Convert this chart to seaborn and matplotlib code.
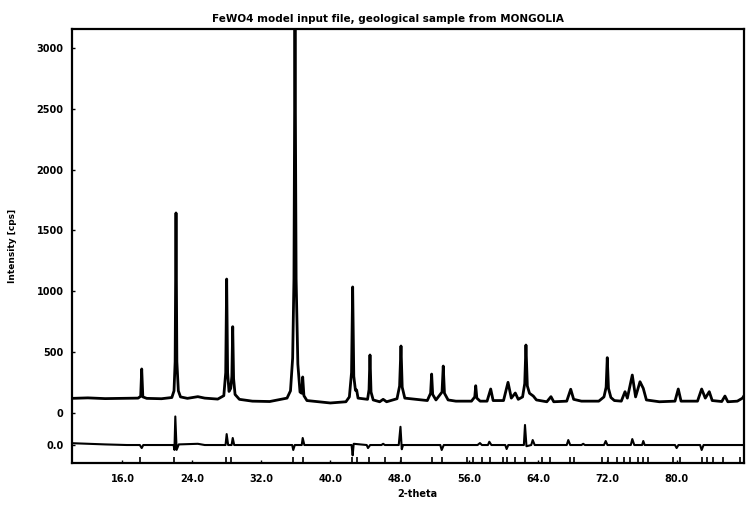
import numpy as np
import pandas as pd
import seaborn as sns
import matplotlib
matplotlib.use("Agg")
import matplotlib.pyplot as plt

# ---------------- data ----------------
# observed pattern (2-theta, intensity in cps)
obs_tth = [10.17, 12.0, 14.0, 16.0, 17.8, 18.1, 18.22, 18.35, 18.8, 20.5,
           21.7, 21.95, 22.08, 22.18, 22.28, 22.45, 22.7, 23.5, 24.7, 25.5,
           27.0, 27.7, 27.92, 28.03, 28.14, 28.3, 28.5, 28.63, 28.73, 28.83,
           29.0, 29.5, 31.0, 33.0, 35.0, 35.4, 35.65, 35.8, 35.92, 36.05,
           36.25, 36.5, 36.7, 36.81, 36.95, 37.3, 40.0, 41.8, 42.2, 42.45,
           42.58, 42.71, 42.9, 43.04, 43.2, 44.3, 44.47, 44.58, 44.7, 44.95,
           45.7, 46.1, 46.5, 47.7, 48.0, 48.16, 48.3, 48.6, 51.2, 51.58,
           51.70, 51.82, 52.2, 52.9, 53.04, 53.18, 53.6, 54.5, 56.3, 56.68,
           56.79, 56.92, 57.3, 58.1, 58.52, 58.8, 60.0, 60.52, 60.9, 61.36,
           61.7, 62.2, 62.45, 62.59, 62.75, 63.0, 63.44, 63.8, 65.0, 65.48,
           65.8, 67.3, 67.76, 68.1, 69.0, 71.0, 71.6, 71.85, 71.98, 72.12,
           72.4, 72.8, 73.6, 74.03, 74.3, 74.87, 75.25, 75.76, 76.14, 76.5,
           78.0, 79.8, 80.18, 80.5, 82.4, 82.88, 83.3, 83.76, 84.1, 85.2,
           85.57, 85.9, 87.0, 87.6, 87.77]
obs_cps = [118, 122, 116, 118, 120, 135, 360, 130, 118, 115,
           125, 180, 420, 1644, 420, 180, 130, 118, 132, 120,
           112, 140, 330, 1100, 330, 175, 200, 300, 708, 280,
           150, 110, 95, 92, 120, 180, 450, 1100, 3250, 1100,
           400, 170, 160, 294, 140, 100, 80, 90, 130, 330,
           1035, 300, 185, 187, 120, 110, 190, 475, 170, 105,
           90, 110, 90, 115, 220, 549, 210, 120, 100, 160,
           318, 150, 105, 170, 384, 160, 105, 95, 95, 130,
           222, 120, 95, 95, 195, 100, 100, 250, 120, 162,
           110, 130, 240, 557, 220, 160, 137, 105, 90, 132,
           90, 95, 193, 110, 95, 95, 130, 210, 453, 200,
           125, 100, 95, 173, 120, 310, 130, 255, 200, 105,
           90, 95, 195, 95, 95, 195, 120, 173, 100, 92,
           137, 90, 95, 120, 140]

# difference curve (obs - calc), drawn around its own zero line
diff_zero = -266
diff_tth = [10.17, 14.0, 16.5, 18.0, 18.22, 18.4, 21.9, 22.0, 22.1, 22.25,
            22.5, 24.7, 25.5, 27.9, 28.03, 28.2, 28.6, 28.73, 28.9, 35.6,
            35.72, 35.9, 36.7, 36.81, 37.0, 42.45, 42.58, 42.7, 44.2, 44.35,
            44.6, 45.9, 46.1, 46.3, 47.9, 48.1, 48.25, 48.4, 52.7, 52.86,
            53.1, 57.0, 57.28, 57.5, 58.2, 58.36, 58.6, 60.2, 60.36, 60.55,
            62.35, 62.48, 62.65, 63.2, 63.37, 63.6, 67.3, 67.48, 67.7, 69.0,
            69.2, 69.4, 71.6, 71.8, 72.0, 74.7, 74.87, 75.1, 76.0, 76.14,
            76.3, 79.8, 79.99, 80.2, 82.7, 82.88, 83.1, 87.77]
diff_cps = [15, 5, 0, 0, -25, 0, 0, -40, 235, -40,
            5, 10, 0, 0, 90, 0, 0, 58, 0, 0,
            -41, 0, 0, 58, 0, 0, -85, 10, 0, -25,
            0, 0, 10, 0, 0, 150, -35, 0, 0, -41,
            0, 0, 16, 0, 0, 27, 0, 0, -33, 0,
            0, 165, -10, 0, 41, 0, 0, 41, 0, 0,
            10, 0, 0, 33, 0, 0, 49, 0, 0, 33,
            0, 0, -25, 0, 0, -41, 0, 0]

# Bragg reflection positions (2-theta)
refl_tth = [18.02, 21.95, 27.92, 28.49, 35.65, 36.81, 42.47, 43.04, 44.50,
            46.31, 48.12, 51.70, 52.86, 55.75, 56.51, 57.48, 58.44, 59.97,
            60.36, 61.32, 62.48, 64.41, 65.36, 67.67, 68.14, 71.33, 72.10,
            73.07, 73.91, 74.60, 75.56, 76.14, 76.72, 79.60, 80.38, 82.88,
            83.53, 84.22, 85.38, 87.31]

x_ticks = [16.0, 24.0, 32.0, 40.0, 48.0, 56.0, 64.0, 72.0, 80.0]
x_tick_labels = ["16.0", "24.0", "32.0", "40.0", "48.0", "56.0", "64.0", "72.0", "80.0"]
y_ticks = [diff_zero, 0, 500, 1000, 1500, 2000, 2500, 3000]
y_tick_labels = ["0.0", "0", "500", "1000", "1500", "2000", "2500", "3000"]

title = "FeWO4 model input file, geological sample from MONGOLIA"
x_label = "2-theta"
y_label = "Intensity [cps]"

# ---------------- plotting ----------------
sns.set_style("ticks")
plt.rcParams["font.family"] = ["DejaVu Sans"]
plt.rcParams["text.color"] = "black"
plt.rcParams["axes.labelcolor"] = "black"
plt.rcParams["xtick.color"] = "black"
plt.rcParams["ytick.color"] = "black"

obs_df = pd.DataFrame({"tth": obs_tth, "cps": obs_cps})
diff_df = pd.DataFrame({"tth": diff_tth, "cps": np.array(diff_cps) + diff_zero})

fig = plt.figure(figsize=(7.48, 5.05), dpi=100)
ax = fig.add_axes([72 / 748, 1 - 463 / 505, (744 - 72) / 748, (463 - 29) / 505])

sns.lineplot(data=obs_df, x="tth", y="cps", ax=ax, color="black",
             linewidth=2.0, estimator=None, sort=False)
sns.lineplot(data=diff_df, x="tth", y="cps", ax=ax, color="black",
             linewidth=1.5, estimator=None, sort=False)
sns.rugplot(x=refl_tth, ax=ax, height=0.013, color="black", linewidth=1.2)

ax.set_xlim(10.17, 87.77)
ax.set_ylim(-414, 3158)
ax.set_xticks(x_ticks)
ax.set_xticklabels(x_tick_labels)
ax.set_yticks(y_ticks)
ax.set_yticklabels(y_tick_labels)
ax.tick_params(axis="both", direction="in", length=2, width=1.0,
               labelsize=7, colors="black")
ax.tick_params(axis="x", pad=8)
ax.tick_params(axis="y", pad=6)
for lab in ax.get_xticklabels() + ax.get_yticklabels():
    lab.set_fontweight("bold")

for s in ax.spines.values():
    s.set_visible(True)
    s.set_linewidth(1.6)
    s.set_color("black")

ax.set_xlabel(x_label, fontsize=7, fontweight="bold", color="black")
ax.xaxis.set_label_coords((417 - 72) / 672, -0.06)
ax.set_ylabel(y_label, fontsize=6.5, fontweight="bold", color="black")
ax.yaxis.set_label_coords(-(72 - 17) / 672, 0.5)

fig.text(388 / 748, 1 - 19 / 505, title, ha="center", va="center",
         fontsize=7.5, fontweight="bold", color="black")

fig.savefig("out.png", dpi=100, facecolor="white")
